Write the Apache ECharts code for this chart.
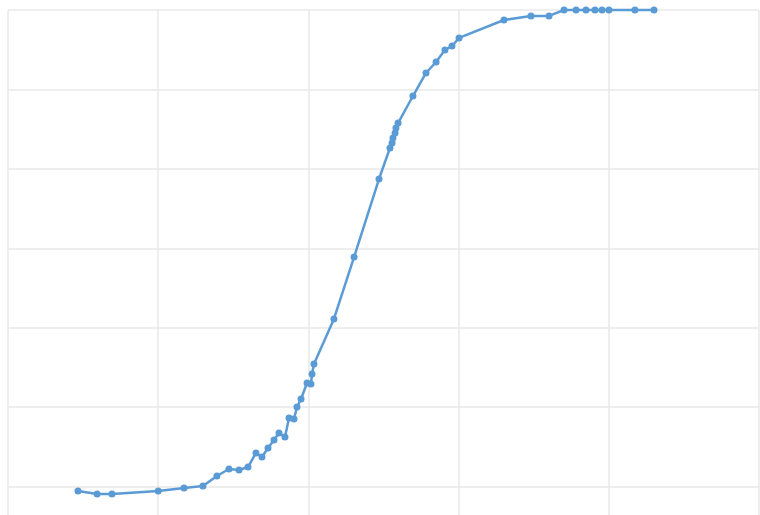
<!DOCTYPE html>
<html>
<head>
<meta charset="utf-8">
<script src="https://cdn.jsdelivr.net/npm/echarts@6/dist/echarts.min.js"></script>
<style>
html,body{margin:0;padding:0;background:#fff;overflow:hidden;width:760px;height:515px;}
#chart{width:760px;height:580px;}
</style>
</head>
<body>
<div id="chart"></div>
<script>
const xValues = [4.66,5.93,6.92,10.0,11.72,12.98,13.91,14.71,15.38,15.98,16.51,16.91,17.31,17.71,18.04,18.44,18.71,19.04,19.24,19.51,19.91,20.17,20.24,20.37,21.70,23.04,24.70,25.43,25.57,25.63,25.77,25.83,25.97,26.96,27.83,28.50,29.09,29.56,30.03,33.02,34.82,36.02,37.02,37.82,38.48,39.08,39.55,40.01,41.74,43.01];
const yValues = [9.44,9.06,9.06,9.44,9.82,10.07,11.33,12.21,12.09,12.46,14.23,13.72,14.86,15.86,16.74,16.24,18.63,18.51,20.02,21.03,23.04,22.91,24.17,25.43,31.10,38.90,48.72,52.63,53.26,53.89,54.51,55.14,55.77,59.17,62.07,63.45,64.96,65.47,66.48,68.74,69.25,69.25,70,70,70,70,70,70,70,70];
const xTicks = {min:0, max:50, interval:10};
const yTicks = {min:0, max:70, interval:10};

const points = xValues.map((x,i)=>[x,yValues[i]]);
const chart = echarts.init(document.getElementById('chart'), null, {renderer:'canvas'});
const gridColor = '#e8e8e8';
chart.setOption({
  backgroundColor:'#ffffff',
  animation:false,
  grid:{left:8, right:1, top:10, bottom:14, containLabel:false},
  xAxis:{
    type:'value', min:xTicks.min, max:xTicks.max, interval:xTicks.interval,
    axisLine:{show:false}, axisTick:{show:false}, axisLabel:{show:false},
    splitLine:{show:true, lineStyle:{color:gridColor, width:1.5}}
  },
  yAxis:{
    type:'value', min:yTicks.min, max:yTicks.max, interval:yTicks.interval,
    axisLine:{show:false}, axisTick:{show:false}, axisLabel:{show:false},
    splitLine:{show:true, lineStyle:{color:gridColor, width:1.5}}
  },
  series:[{
    type:'line',
    data:points,
    clip:false,
    symbol:'circle',
    symbolSize:7,
    showAllSymbol:true,
    lineStyle:{color:'#5b9bd5', width:2.5},
    itemStyle:{color:'#5b9bd5'}
  }]
});
</script>
</body>
</html>
